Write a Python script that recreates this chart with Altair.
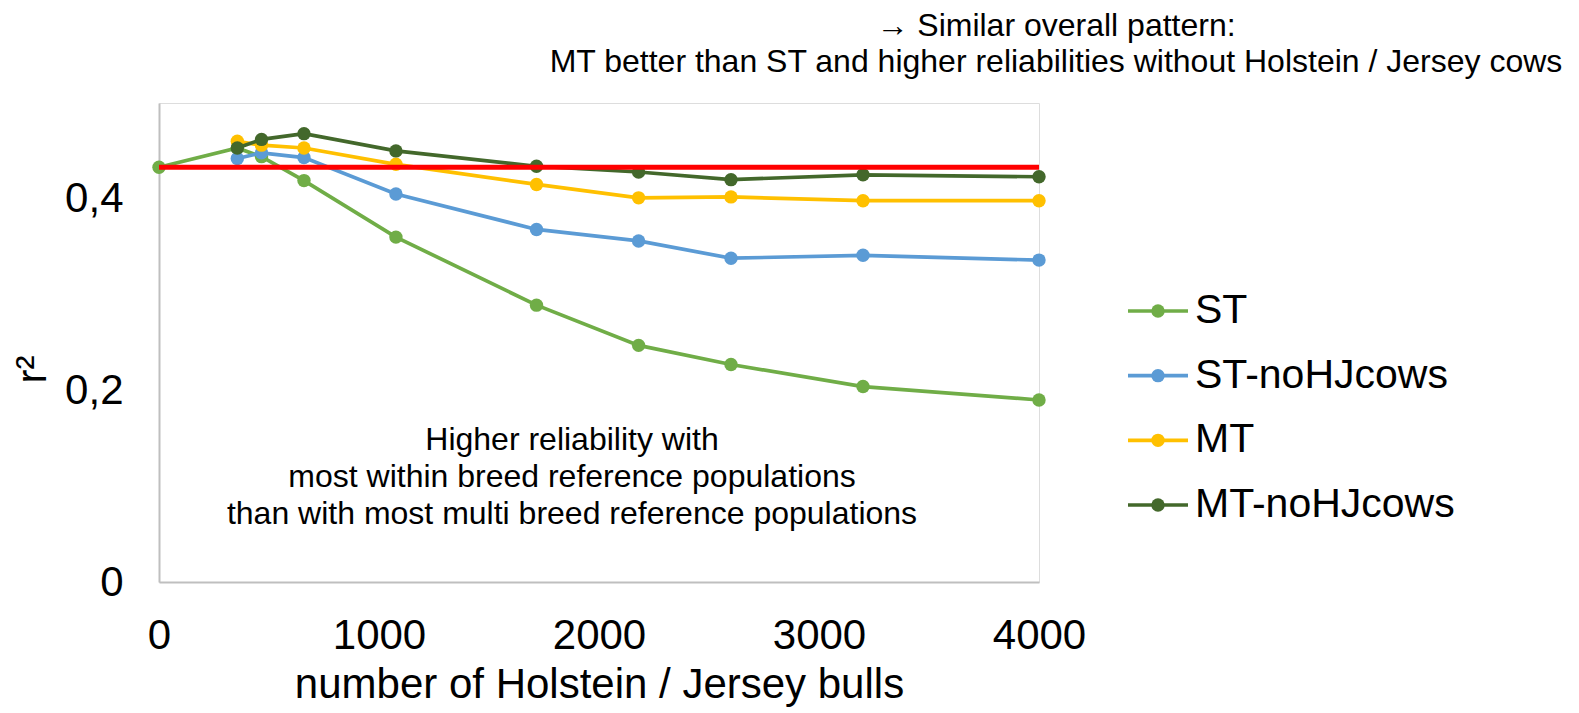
import altair as alt
import pandas as pd

# ---------------- data ----------------
series_names = ["ST", "ST-noHJcows", "MT", "MT-noHJcows"]
series_colors = ["#70AD47", "#5B9BD5", "#FFC000", "#43682B"]

bulls_st = [0, 356, 466, 659, 1077, 1716, 2180, 2600, 3200, 4000]
r2_st = [0.433, 0.453, 0.444, 0.419, 0.360, 0.289, 0.247, 0.227, 0.204, 0.190]

bulls_other = [356, 466, 659, 1077, 1716, 2180, 2600, 3200, 4000]
r2_st_nohj = [0.442, 0.448, 0.443, 0.405, 0.368, 0.356, 0.338, 0.341, 0.336]
r2_mt = [0.460, 0.456, 0.453, 0.436, 0.415, 0.401, 0.402, 0.398, 0.398]
r2_mt_nohj = [0.453, 0.462, 0.468, 0.450, 0.434, 0.428, 0.420, 0.425, 0.423]

baseline_x = [0, 4000]
baseline_r2 = 0.433

x_ticks = [0, 1000, 2000, 3000, 4000]
y_ticks = [0, 0.2, 0.4]

note_lines = [
    "Higher reliability with",
    "most within breed reference populations",
    "than with most multi breed reference populations",
]
top_lines = [
    "\u2192 Similar overall pattern:",
    "MT better than ST and higher reliabilities without Holstein / Jersey cows",
]

FONT = "Liberation Sans"

rows = []
for x, y in zip(bulls_st, r2_st):
    rows.append({"bulls": x, "r2": y, "series": "ST"})
for name, vals in [("ST-noHJcows", r2_st_nohj), ("MT", r2_mt), ("MT-noHJcows", r2_mt_nohj)]:
    for x, y in zip(bulls_other, vals):
        rows.append({"bulls": x, "r2": y, "series": name})
df = pd.DataFrame(rows)

color_scale = alt.Scale(domain=series_names, range=series_colors)

x_enc = alt.X(
    "bulls:Q",
    scale=alt.Scale(domain=[0, 4000], nice=False, zero=True),
    axis=alt.Axis(
        values=x_ticks, format="d", ticks=False, grid=False,
        labelFlush=False, labelOverlap=False, labelBound=False,
        domainColor="#BFBFBF", domainWidth=2,
        labelFontSize=42, labelPadding=33, labelColor="black", labelFont=FONT,
        title="number of Holstein / Jersey bulls", titleFontSize=42,
        titleFont=FONT, titleFontWeight="normal", titleColor="black",
        titlePadding=8,
    ),
)
y_enc = alt.Y(
    "r2:Q",
    scale=alt.Scale(domain=[0, 0.5], nice=False),
    axis=alt.Axis(
        values=y_ticks, ticks=False, grid=False,
        labelFlush=False, labelOverlap=False,
        labelExpr="datum.value == 0 ? '0' : replace(format(datum.value, '.1f'), '.', ',')",
        domainColor="#BFBFBF", domainWidth=2,
        labelFontSize=42, labelPadding=36, labelColor="black", labelFont=FONT,
        title="r\u00b2", titleFontSize=42, titleFont=FONT,
        titleFontWeight="normal", titleColor="black",
        titleX=-127, titleY=266, titleAlign="center", titleBaseline="middle",
        titleAngle=270,
    ),
)

layers = []
for name in series_names:
    sub = alt.Chart(df).transform_filter(alt.datum.series == name)
    line = sub.mark_line(strokeWidth=3.7).encode(
        x=x_enc, y=y_enc,
        color=alt.Color("series:N", scale=color_scale, legend=None),
    )
    pts = sub.mark_point(filled=True, size=180, opacity=1).encode(
        x=x_enc, y=y_enc,
        color=alt.Color("series:N", scale=color_scale, legend=None),
    )
    layers += [line, pts]

red_df = pd.DataFrame({"bulls": [baseline_x[0]], "bulls2": [baseline_x[1]], "r2": [baseline_r2]})
red = alt.Chart(red_df).mark_rule(color="#FF0000", strokeWidth=5).encode(
    x=alt.X("bulls:Q"), x2="bulls2:Q", y=alt.Y("r2:Q")
)
layers.append(red)

one = pd.DataFrame({"k": [0]})
note = alt.Chart(one).mark_text(
    text=note_lines, font=FONT, fontSize=32, lineHeight=37,
    align="center", baseline="top", color="black",
).encode(x=alt.value(413), y=alt.value(322))
top = alt.Chart(one).mark_text(
    text=top_lines, font=FONT, fontSize=32, lineHeight=36,
    align="center", baseline="top", color="black",
).encode(x=alt.value(897), y=alt.value(-92))
layers += [note, top]

main = alt.layer(*layers)

leg_df = pd.DataFrame({"series": series_names})
leg_y = alt.Y("series:N", sort=series_names,
              scale=alt.Scale(type="point", range=[208, 402], padding=0), axis=None)
leg_color = alt.Color("series:N", scale=color_scale, legend=None)
leg_rule = alt.Chart(leg_df).mark_rule(strokeWidth=3.7).encode(
    x=alt.value(969), x2=alt.value(1029), y=leg_y, color=leg_color)
leg_pt = alt.Chart(leg_df).mark_point(filled=True, size=180, opacity=1).encode(
    x=alt.value(999), y=leg_y, color=leg_color)
leg_txt = alt.Chart(leg_df).mark_text(
    font=FONT, fontSize=41, align="left", baseline="middle", color="black"
).encode(x=alt.value(1036), y=leg_y, text="series:N")
legend = alt.layer(leg_rule, leg_pt, leg_txt)

chart = alt.layer(main, legend).resolve_scale(y="independent").properties(
    width=880, height=479,
    autosize=alt.AutoSizeParams(type="none"),
    padding={"left": 151, "top": 95, "right": 527, "bottom": 130},
).configure_view(stroke=None).configure(font=FONT)

chart.save("out.html", embed_options={"renderer": "svg", "actions": False})
